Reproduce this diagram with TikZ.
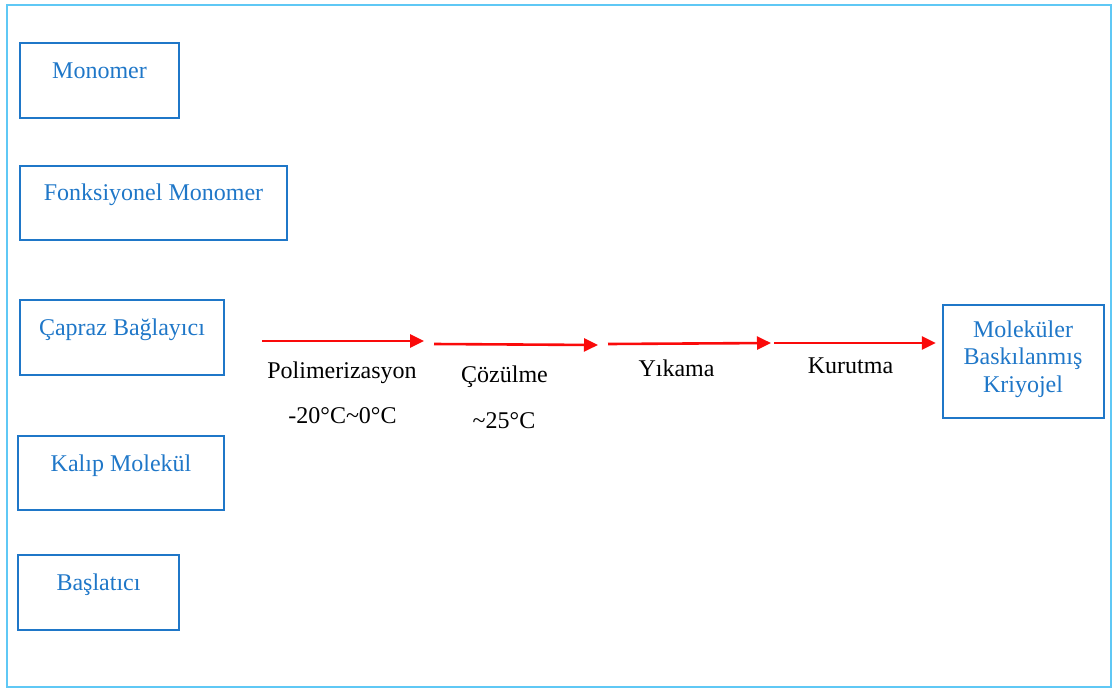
\documentclass[tikz,border=0pt]{standalone}
\usepackage{fontspec}
\setmainfont{Liberation Serif}
\usetikzlibrary{arrows.meta}
\definecolor{boxblue}{RGB}{31,119,200}
\definecolor{frameblue}{RGB}{95,200,245}
\definecolor{arrowred}{RGB}{250,10,10}
\begin{document}
\begin{tikzpicture}[x=1pt,y=-1pt,
  every node/.style={font=\fontsize{24}{27.5}\selectfont, inner sep=0pt},
  inbox/.style={draw=boxblue, line width=2.4pt, rectangle},
  intext/.style={text=boxblue, anchor=base},
  steptext/.style={text=black, anchor=base},
  flow/.style={draw=arrowred, line width=2.6pt, -{Triangle[length=14pt,width=13pt]}}]
\useasboundingbox (0,0) rectangle (1114,691);
% outer frame
\draw[frameblue, line width=1.8pt] (7,5) rectangle (1111,687);

% ingredient boxes (text sits in the upper part of each box)
\node[inbox, minimum width=159pt, minimum height=75pt] (mono) at (99.5,80.5) {};
\node[intext] (monot) at (99.5,78) {Monomer};
\node[inbox, minimum width=267pt, minimum height=74pt] (fmono) at (153.5,203) {};
\node[intext] (fmonot) at (153.5,200) {Fonksiyonel Monomer};
\node[inbox, minimum width=204pt, minimum height=75pt] (cross) at (122,337.5) {};
\node[intext] (crosst) at (122,335) {Çapraz Bağlayıcı};
\node[inbox, minimum width=206pt, minimum height=74pt] (templ) at (121,473) {};
\node[intext] (templt) at (121,471) {Kalıp Molekül};
\node[inbox, minimum width=161pt, minimum height=75pt] (init) at (98.5,592.5) {};
\node[intext] (initt) at (98.5,590) {Başlatıcı};

% product box (base anchor of a multi-line node is the last line)
\node[inbox, minimum width=161pt, minimum height=113pt] (prod) at (1023.5,361.5) {};
\node[intext, align=center] (prodt) at (1023,392) {Moleküler\\Baskılanmış\\Kriyojel};

% process arrows
\coordinate (a1s) at (262,341);
\coordinate (a1e) at (424,341);
\coordinate (a2s) at (434,344);
\coordinate (a2e) at (598,345);
\coordinate (a3s) at (608,344);
\coordinate (a3e) at (771,343);
\coordinate (a4s) at (774,343);
\draw[flow] (a1s) -- (a1e);
\draw[flow] (a2s) -- (a2e);
\draw[flow] (a3s) -- (a3e);
\draw[flow] (a4s) -- ([xshift=-6pt]prod.west |- a4s);

% step labels
\node[steptext] (s1) at (342,378) {Polimerizasyon};
\node[steptext] (s1c) at (342.5,423) {-20°C\textasciitilde 0°C};
\node[steptext] (s2) at (504.5,382) {Çözülme};
\node[steptext] (s2c) at (504,428) {\textasciitilde 25°C};
\node[steptext] (s3) at (676.5,376) {Yıkama};
\node[steptext] (s4) at (850.5,373) {Kurutma};
\end{tikzpicture}
\end{document}
